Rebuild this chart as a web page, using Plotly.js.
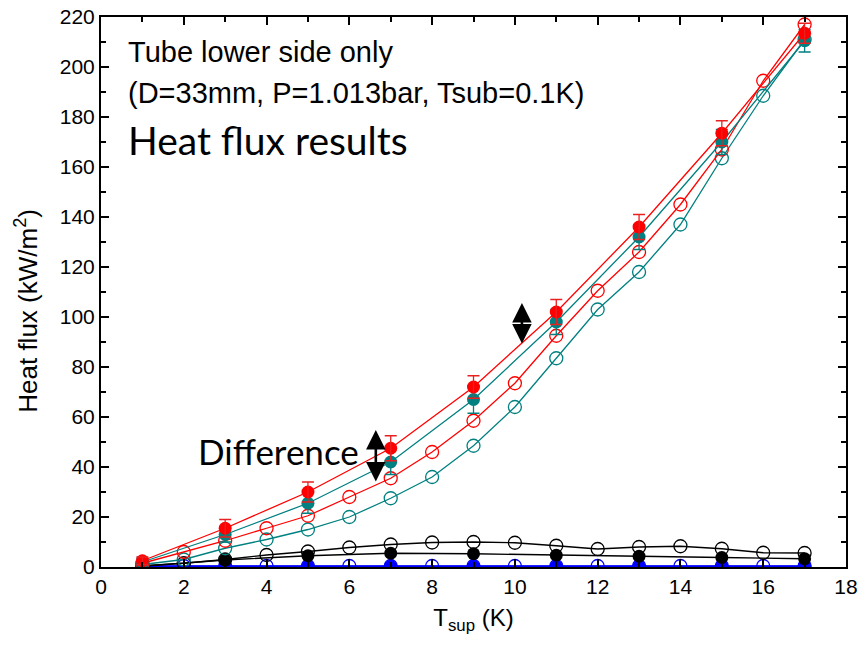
<!DOCTYPE html>
<html>
<head>
<meta charset="utf-8">
<script src="https://cdn.plot.ly/plotly-3.0.1.min.js"></script>
<style>html,body{margin:0;padding:0;background:#fff;}#chart{width:859px;height:651px;}</style>
</head>
<body>
<div id="chart"></div>
<script>
// ---- data ----
const xOdd = [1, 3, 5, 7, 9, 11, 13, 15, 17];
const xAll = [1, 2, 3, 4, 5, 6, 7, 8, 9, 10, 11, 12, 13, 14, 15, 16, 17];

const redFilled = [2.5, 15.5, 30, 47.5, 72, 102, 136, 173.5, 213.5];
const redFilledErr = [1.5, 3.5, 4, 5, 4.5, 5, 5, 5, 4];
const tealFilled = [2, 13, 25.5, 42, 67, 98, 132, 170, 210.5];
const tealFilledErr = [1.5, 3, 4, 5, 5.5, 5, 5, 5, 4.5];

const redOpen = [1.5, 6, 10.5, 15.5, 20.5, 28, 35.5, 46, 58.5, 73.5, 92.5, 110.5, 126, 145, 167, 194.5, 217];
const tealOpen = [1, 3, 7.5, 11, 15, 20, 27.5, 36, 48.5, 64, 83.5, 103, 118, 137, 163.5, 188.5, 211];

const blackOpen = [0.5, 1.5, 3, 4.8, 6.2, 7.8, 9, 9.8, 10, 9.7, 8.5, 7.2, 8, 8.3, 7.3, 5.7, 5.6];
const blackFilled = [0.3, 2.8, 4.5, 5.5, 5.3, 4.7, 4.3, 3.8, 3.3];

const blueOpen = [0.4, 0.4, 0.4, 0.4, 0.4, 0.4, 0.4, 0.4, 0.4, 0.4, 0.4, 0.4, 0.4, 0.4, 0.4, 0.4, 0.4];
const blueFilled = [0.3, 0.3, 0.3, 0.3, 0.3, 0.3, 0.3, 0.3, 0.3];

const xTicks = [0, 2, 4, 6, 8, 10, 12, 14, 16, 18];
const yTicks = [0, 20, 40, 60, 80, 100, 120, 140, 160, 180, 200, 220];

// ---- styling ----
const RED = '#ff0000', TEAL = '#008080', BLACK = '#000000', BLUE = '#0000ff';
const MS = 13;

function openTrace(x, y, c) {
  return {x: x, y: y, mode: 'lines+markers', type: 'scatter', showlegend: false,
    line: {color: c, width: 1.3},
    marker: {symbol: 'circle-open', size: MS, color: c, line: {width: 1.3, color: c}}};
}
function filledTrace(x, y, c) {
  return {x: x, y: y, mode: 'lines+markers', type: 'scatter', showlegend: false,
    line: {color: c, width: 1.3},
    marker: {symbol: 'circle', size: MS, color: c}};
}
function errTrace(x, y, e, c) {
  return {x: x, y: y, mode: 'markers', type: 'scatter', showlegend: false,
    marker: {size: 1, color: 'rgba(0,0,0,0)'},
    error_y: {type: 'data', array: e, visible: true, color: c, thickness: 1.3, width: 6}};
}

const traces = [
  openTrace(xAll, blueOpen, BLUE),
  filledTrace(xOdd, blueFilled, BLUE),
  openTrace(xAll, blackOpen, BLACK),
  filledTrace(xOdd, blackFilled, BLACK),
  openTrace(xAll, tealOpen, TEAL),
  openTrace(xAll, redOpen, RED),
  filledTrace(xOdd, tealFilled, TEAL),
  errTrace(xOdd, tealFilled, tealFilledErr, TEAL),
  filledTrace(xOdd, redFilled, RED),
  errTrace(xOdd, redFilled, redFilledErr, '#e82020')
];

const arial = 'Liberation Sans, Arial, sans-serif';
const calibri = 'Lato, Noto Sans, sans-serif';

const axisCommon = {
  showgrid: false, zeroline: false, showline: true, linecolor: BLACK, linewidth: 2,
  mirror: 'allticks', ticks: 'inside', ticklen: 8, tickwidth: 2, tickcolor: BLACK,
  tickfont: {family: arial, size: 21, color: BLACK}
};

const layout = {
  width: 859, height: 651,
  margin: {l: 101, r: 13, t: 17, b: 84},
  paper_bgcolor: '#ffffff', plot_bgcolor: '#ffffff',
  showlegend: false,
  xaxis: Object.assign({}, axisCommon, {
    range: [0, 18], tickmode: 'array', tickvals: xTicks, ticktext: xTicks.map(String),
    minor: {dtick: 1, ticks: 'inside', ticklen: 5, tickwidth: 2, tickcolor: BLACK, showgrid: false},
    title: {text: 'T<sub>sup</sub> (K)', font: {family: arial, size: 24, color: BLACK}, standoff: 12}
  }),
  yaxis: Object.assign({}, axisCommon, {
    range: [0, 220], tickmode: 'array', tickvals: yTicks, ticktext: yTicks.map(String),
    minor: {dtick: 10, ticks: 'inside', ticklen: 5, tickwidth: 2, tickcolor: BLACK, showgrid: false}
  }),
  annotations: [
    {x: -0.1, y: 0.465, xref: 'paper', yref: 'paper', xanchor: 'center', yanchor: 'middle', showarrow: false,
     textangle: -90, text: 'Heat flux (kW/m<sup>2</sup>)', font: {family: arial, size: 26, color: BLACK}},
    {x: 0.6, y: 206, xref: 'x', yref: 'y', xanchor: 'left', yanchor: 'middle', showarrow: false,
     text: 'Tube lower side only', font: {family: arial, size: 29, color: BLACK}},
    {x: 0.6, y: 189.6, xref: 'x', yref: 'y', xanchor: 'left', yanchor: 'middle', showarrow: false,
     text: '(D=33mm, P=1.013bar, Tsub=0.1K)', font: {family: arial, size: 29, color: BLACK}},
    {x: 0.6, y: 170.8, xref: 'x', yref: 'y', xanchor: 'left', yanchor: 'middle', showarrow: false,
     text: 'Heat flux results', font: {family: calibri, size: 39, color: BLACK}},
    {x: 2.3, y: 46.4, xref: 'x', yref: 'y', xanchor: 'left', yanchor: 'middle', showarrow: false,
     text: 'Difference', font: {family: calibri, size: 35, color: BLACK}},
    {x: 6.64, y: 54.8, ax: 6.64, ay: 33.6, xref: 'x', yref: 'y', axref: 'x', ayref: 'y',
     text: '', showarrow: true, arrowside: 'end+start', arrowhead: 2, startarrowhead: 2,
     arrowsize: 1.5, startarrowsize: 1.5, arrowwidth: 2.6, arrowcolor: BLACK, standoff: 0, startstandoff: 0},
    {x: 10.17, y: 105.6, ax: 10.17, ay: 88.8, xref: 'x', yref: 'y', axref: 'x', ayref: 'y',
     text: '', showarrow: true, arrowside: 'end+start', arrowhead: 2, startarrowhead: 2,
     arrowsize: 1.5, startarrowsize: 1.5, arrowwidth: 2.6, arrowcolor: BLACK, standoff: 0, startstandoff: 0}
  ]
};

Plotly.newPlot('chart', traces, layout, {displayModeBar: false, staticPlot: true});
</script>
</body>
</html>
